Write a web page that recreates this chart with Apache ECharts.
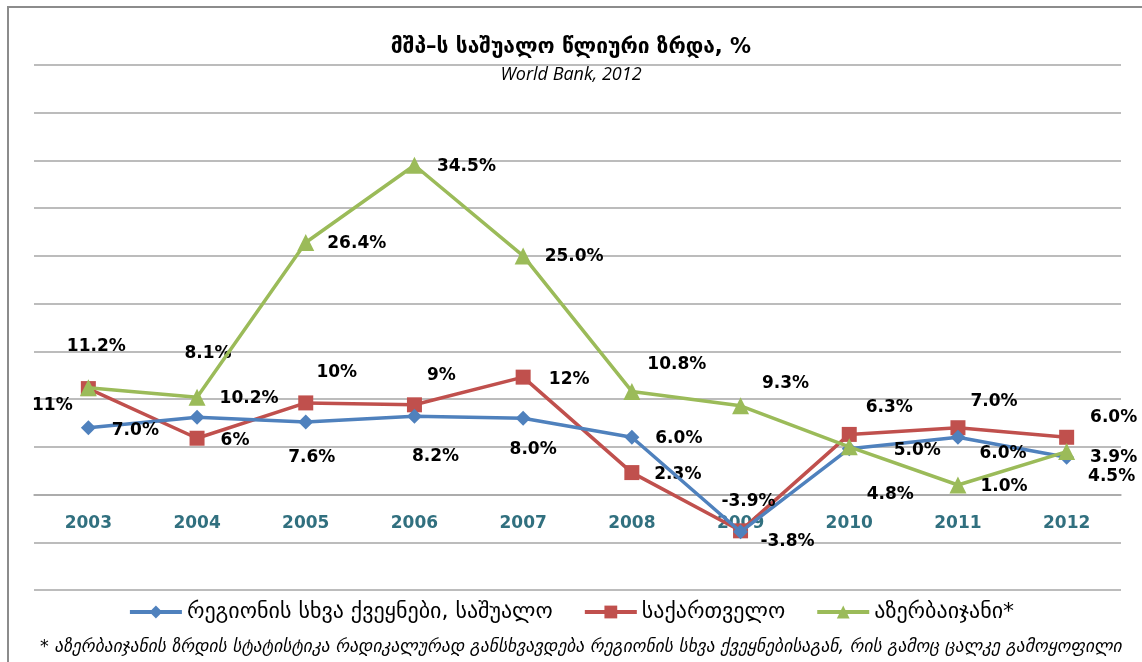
<!DOCTYPE html>
<html>
	<head>
		<meta charset="utf-8" />
		<title>მშპ–ს საშუალო წლიური ზრდა</title>
		<script src="https://cdn.jsdelivr.net/npm/echarts@6/dist/echarts.min.js"></script>
		<style>
			* {
				margin: 0;
				padding: 0;
				box-sizing: border-box;
			}
			body {
				background: #fff;
			}
		</style>
	</head>
	<body>
		<div id="main" style="width: 1142px; height: 662px"></div>
		<script>
			// მონაცემები
			var years = ['2003', '2004', '2005', '2006', '2007', '2008', '2009', '2010', '2011', '2012'];
			var regionAvg = [7.0, 8.1, 7.6, 8.2, 8.0, 6.0, -3.9, 4.8, 6.0, 3.9];
			var georgia = [11.1, 5.9, 9.6, 9.4, 12.3, 2.3, -3.8, 6.3, 7.0, 6.0];
			var georgiaLabels = ['11%', '6%', '10%', '9%', '12%', '2.3%', '-3.8%', '6.3%', '7.0%', '6.0%'];
			var azerbaijan = [11.2, 10.2, 26.4, 34.5, 25.0, 10.8, 9.3, 5.0, 1.0, 4.5];
			var seriesNames = ['რეგიონის სხვა ქვეყნები, საშუალო', 'საქართველო', 'აზერბაიჯანი*'];
			var yMin = -10;
			var yMax = 45;

			// წარწერების გადაწევა (წერტილიდან)
			var regionOffsets = [[47, 3], [11, -64], [6, 36], [21, 40], [10, 31], [47, 1], [8, -30], [41, 46], [45, 16], [47, 0]];
			var georgiaOffsets = [[-36, 17], [38, 2], [31, -30], [27, -29], [46, 2], [46, 2], [47, 11], [40, -27], [36, -26], [47, -20]];
			var azerOffsets = [[8, -41], [52, 1], [51, 1], [52, 1], [51, 1], [45, -27], [45, -22], [68, 4], [46, 2], [45, 25]];

			function withLabels(values, offsets) {
				return values.map(function (v, i) {
					return {
						value: v,
						label: {offset: offsets[i]},
					};
				});
			}

			function labelStyle(formatter) {
				return {
					show: true,
					position: 'inside',
					align: 'center',
					verticalAlign: 'middle',
					fontFamily: 'DejaVu Sans',
					fontWeight: 'bold',
					fontSize: 17,
					color: '#000',
					formatter: formatter,
				};
			}
			function pct(p) {
				return p.value.toFixed(1) + '%';
			}

			var gridTop = 65;
			var gridBottom = 72;
			var plotH = 662 - gridTop - gridBottom;
			// x ღერძი ნულზე
			var zeroShift = (plotH * (0 - yMin)) / (yMax - yMin);

			var myChart = echarts.init(document.getElementById('main'));
			var option = {
				animation: false,
				title: {
					left: 'center',
					top: 32,
					text: 'მშპ–ს საშუალო წლიური ზრდა, %',
					subtext: 'World Bank, 2012',
					itemGap: 8,
					textStyle: {fontFamily: 'DejaVu Sans', fontWeight: 'bold', fontSize: 21, color: '#000'},
					subtextStyle: {fontFamily: 'Open Sans', fontStyle: 'italic', fontSize: 18, color: '#000'},
				},
				grid: {
					left: 34,
					right: 21,
					top: gridTop,
					bottom: gridBottom,
					containLabel: false,
				},
				legend: {
					top: 596,
					left: 'center',
					itemWidth: 52,
					itemHeight: 16,
					itemGap: 30,
					lineStyle: {width: 4},
					textStyle: {fontFamily: 'DejaVu Sans', fontSize: 22, color: '#000'},
					data: seriesNames,
				},
				xAxis: {
					type: 'category',
					data: years,
					offset: -zeroShift,
					axisLine: {onZero: false, lineStyle: {color: '#a6a6a6', width: 1.5}},
					axisTick: {show: false},
					axisLabel: {
						margin: 21,
						fontFamily: 'DejaVu Sans',
						fontWeight: 'bold',
						fontSize: 17,
						color: '#31707f',
					},
				},
				yAxis: {
					type: 'value',
					min: yMin,
					max: yMax,
					interval: 5,
					axisLabel: {show: false},
					axisLine: {show: false},
					axisTick: {show: false},
					splitLine: {lineStyle: {color: '#a6a6a6', width: 1.5}},
				},
				graphic: [
					{
						type: 'polyline',
						shape: {points: [[8, 662], [8, 7], [1142, 7]]},
						style: {stroke: '#8c8c8c', lineWidth: 2, fill: null},
					},
					{
						type: 'text',
						left: 40,
						top: 638,
						style: {
							text: '* აზერბაიჯანის ზრდის სტატისტიკა რადიკალურად განსხვავდება რეგიონის სხვა ქვეყნებისაგან, რის გამოც ცალკე გამოყოფილი',
							font: 'italic 17.5px "DejaVu Sans"',
							fill: '#000',
						},
					},
				],
				series: [
					{
						name: seriesNames[0],
						type: 'line',
						data: withLabels(regionAvg, regionOffsets),
						symbol: 'diamond',
						symbolSize: 15,
						lineStyle: {width: 3.5},
						itemStyle: {color: '#4f81bd'},
						label: labelStyle(pct),
						z: 3,
					},
					{
						name: seriesNames[1],
						type: 'line',
						data: withLabels(georgia, georgiaOffsets),
						symbol: 'rect',
						symbolSize: 15,
						lineStyle: {width: 3.5},
						itemStyle: {color: '#c0504d'},
						label: labelStyle(function (p) {
							return georgiaLabels[p.dataIndex];
						}),
						z: 2,
					},
					{
						name: seriesNames[2],
						type: 'line',
						data: withLabels(azerbaijan, azerOffsets),
						symbol: 'triangle',
						symbolSize: 17,
						lineStyle: {width: 3.5},
						itemStyle: {color: '#9bbb59'},
						label: labelStyle(pct),
						z: 4,
					},
				],
			};
			myChart.setOption(option);
		</script>
	</body>
</html>
